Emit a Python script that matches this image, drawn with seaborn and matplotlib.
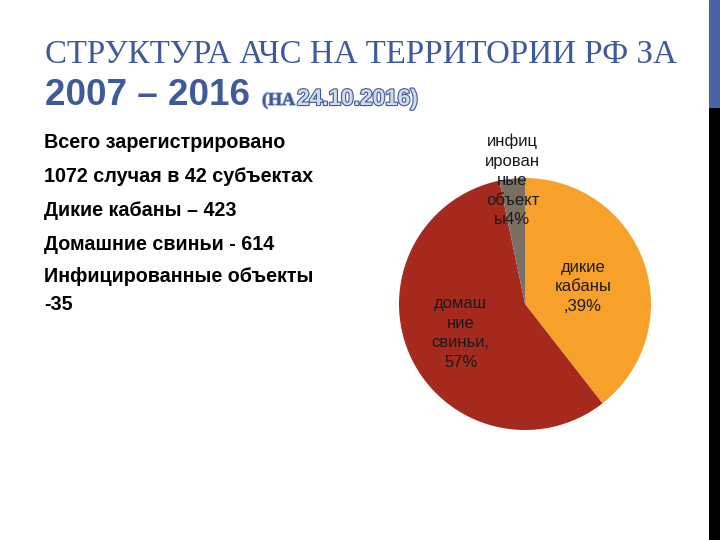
import matplotlib
matplotlib.use("Agg")
import matplotlib.pyplot as plt
import matplotlib.patheffects as pe
import seaborn as sns

# ---- data ----
categories = ["дикие кабаны", "домашние свиньи", "инфицированные объекты"]
counts = [423, 614, 35]
slice_labels = ["дикие\nкабаны\n,39%", "домаш\nние\nсвиньи,\n57%", "инфиц\nирован\nные\nобъект\nы4%"]
info_lines = ["Всего зарегистрировано", "1072 случая в 42 субъектах", "Дикие кабаны – 423",
              "Домашние свиньи - 614", "Инфицированные объекты", "-35"]
title_line1 = "СТРУКТУРА АЧС НА ТЕРРИТОРИИ РФ ЗА"
title_years = "2007 – 2016"
title_date_a = "(НА"
title_date_b = "24.10.2016)"

sns.set_theme(style="white")
plt.rcParams["font.family"] = ["Liberation Sans", "DejaVu Sans"]

palette = sns.color_palette(["#F7A12B", "#A6291E", "#7A6F63"])
BLUE = "#3F5A9A"

fig = plt.figure(figsize=(7.2, 5.4), dpi=100)
fig.patch.set_facecolor("white")

# right edge bars
bar1 = fig.add_axes([709 / 720, 1 - 108 / 540, 11 / 720, 108 / 540])
bar1.set_axis_off()
bar1.add_patch(plt.Rectangle((0, 0), 1, 1, transform=bar1.transAxes, color="#4A62A6"))
bar2 = fig.add_axes([709 / 720, 0, 11 / 720, 1 - 108 / 540])
bar2.set_axis_off()
bar2.add_patch(plt.Rectangle((0, 0), 1, 1, transform=bar2.transAxes, color="black"))

# title
fig.text(45 / 720, 1 - 63 / 540, title_line1, family=["Liberation Serif", "DejaVu Serif"],
         fontsize=23.7, color=BLUE, ha="left", va="baseline")
fig.text(45 / 720, 1 - 105 / 540, title_years, fontsize=26.5, fontweight="bold",
         color=BLUE, ha="left", va="baseline")
fig.text(262 / 720, 1 - 105 / 540, title_date_a, family=["Liberation Serif", "DejaVu Serif"],
         fontsize=13, fontweight="bold", color=BLUE, ha="left", va="baseline",
         path_effects=[pe.Stroke(linewidth=1.2, foreground="#9fb0d8"), pe.Normal()])
fig.text(297 / 720, 1 - 105 / 540, title_date_b, fontsize=16.3, fontweight="bold",
         color="#d3d9ec", ha="left", va="baseline",
         path_effects=[pe.Stroke(linewidth=1.6, foreground=BLUE), pe.Normal()])

# left info text
ys = [143, 176, 210, 244, 277, 304]
for line, y in zip(info_lines, ys):
    fig.text(44 / 720, 1 - y / 540, line, fontsize=14.2, fontweight="bold",
             color="black", ha="left", va="center")

# pie
cx, cy, r = 525, 304, 126
ax = fig.add_axes([(cx - r) / 720, (540 - cy - r) / 540, 2 * r / 720, 2 * r / 540])
wedges, _ = ax.pie(counts, colors=palette, startangle=90, counterclock=False,
                   wedgeprops=dict(linewidth=0))
ax.set_xlim(-1, 1); ax.set_ylim(-1, 1)
ax.set_aspect("equal")
ax.set_axis_off()

label_pos = [(0.46, 0.135), (-0.51, -0.23), (-0.10, 0.98)]
for txt, (x, y) in zip(slice_labels, label_pos):
    ax.text(x, y, txt, ha="center", va="center", fontsize=12, color="#1a1a1a",
            linespacing=1.38, clip_on=False)

fig.savefig("out.png", dpi=100, facecolor="white")
